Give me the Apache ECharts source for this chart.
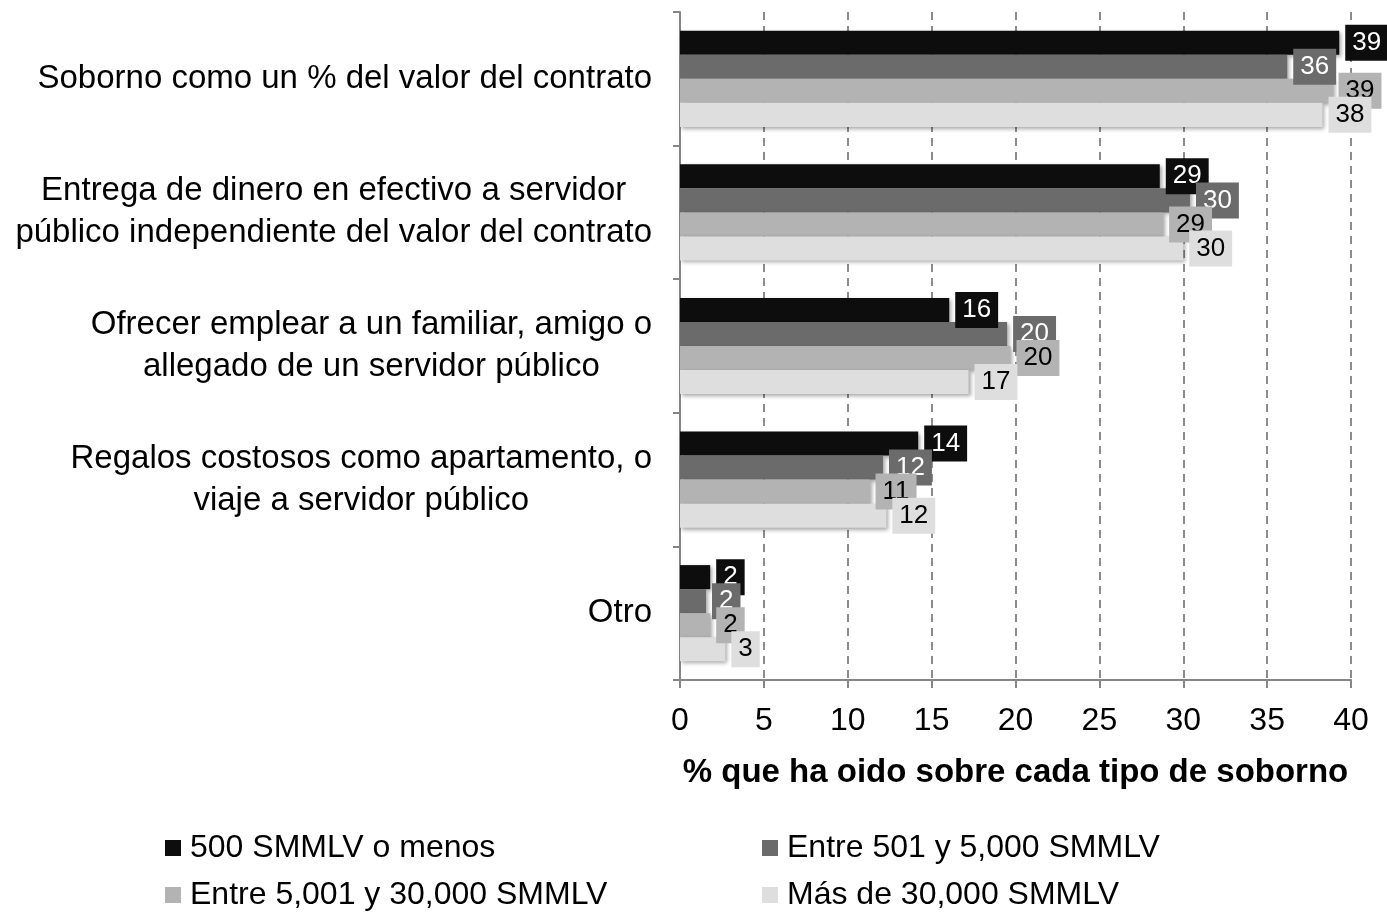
<!DOCTYPE html>
<html>
<head>
<meta charset="utf-8">
<script src="https://cdn.jsdelivr.net/npm/echarts@6/dist/echarts.min.js"></script>
<style>
  html, body { margin: 0; padding: 0; background: #fff; }
  #chart { width: 1387px; height: 914px; }
</style>
</head>
<body>
<div id="chart"></div>
<script>
// categorias (de arriba a abajo)
const categories = [
  'Soborno como un % del valor del contrato',
  'Entrega de dinero en efectivo a servidor\npúblico independiente del valor del contrato',
  'Ofrecer emplear a un familiar, amigo o\nallegado de un servidor público',
  'Regalos costosos como apartamento, o\nviaje a servidor público',
  'Otro'
];
const seriesNames = ['500 SMMLV o menos', 'Entre 501 y 5,000 SMMLV', 'Entre 5,001 y 30,000 SMMLV', 'Más de 30,000 SMMLV'];
const menos500 = [39.3, 28.6, 16.05, 14.2, 1.8];
const entre501 = [36.2, 30.4, 19.5, 12.1, 1.55];
const entre5001 = [38.9, 28.8, 19.7, 11.3, 1.8];
const mas30000 = [38.3, 30.0, 17.2, 12.3, 2.7];
const xTicks = [0, 5, 10, 15, 20, 25, 30, 35, 40];

const colors = ['#0d0d0d', '#6b6b6b', '#b3b3b3', '#dedede'];
const labelText = ['#fff', '#fff', '#000', '#000'];
const font = "'Liberation Sans', Arial, sans-serif";

// posicion de cada leyenda (2 columnas x 2 filas)
const legendPos = [[165, 832], [762, 832], [165, 879], [762, 879]];

const chart = echarts.init(document.getElementById('chart'));

function makeSeries(i, data) {
  return {
    name: seriesNames[i],
    type: 'bar',
    data: data,
    barGap: '0%',
    barCategoryGap: '28%',
    itemStyle: {
      color: colors[i],
      shadowColor: 'rgba(0,0,0,0.35)',
      shadowBlur: 4,
      shadowOffsetX: 2,
      shadowOffsetY: 2
    },
    label: {
      show: true,
      position: 'right',
      distance: 6,
      formatter: p => Math.round(p.value),
      color: labelText[i],
      backgroundColor: colors[i],
      fontFamily: font,
      fontSize: 26,
      lineHeight: 28,
      padding: [4, 7]
    }
  };
}

chart.setOption({
  animation: false,
  color: colors,
  textStyle: { fontFamily: font },
  grid: { left: 680, right: 36, top: 12, bottom: 234 },
  legend: seriesNames.map((n, i) => ({
    data: [n],
    left: legendPos[i][0], top: legendPos[i][1],
    itemWidth: 16, itemHeight: 16,
    icon: 'rect',
    padding: 0,
    textStyle: { fontSize: 32, color: '#000', fontFamily: font, padding: [0, 0, 0, 4] }
  })),
  xAxis: {
    type: 'value',
    min: 0, max: 40, interval: 5,
    name: '% que ha oido sobre cada tipo de soborno',
    nameLocation: 'middle',
    nameGap: 76,
    nameTextStyle: { fontSize: 33, fontWeight: 'bold', color: '#000', fontFamily: font },
    axisLine: { show: true, lineStyle: { color: '#868686', width: 2 } },
    axisTick: { show: true, length: 8, lineStyle: { color: '#868686', width: 2 } },
    axisLabel: {
      fontSize: 32, color: '#000', margin: 25, fontFamily: font,
      formatter: v => xTicks.indexOf(v) >= 0 ? String(v) : ''
    },
    splitLine: { show: true, lineStyle: { color: '#8c8c8c', width: 2, type: [8, 6] } }
  },
  yAxis: {
    type: 'category',
    inverse: true,
    data: categories,
    axisLine: { show: true, lineStyle: { color: '#868686', width: 2 } },
    axisTick: { show: true, length: 7, lineStyle: { color: '#868686', width: 2 } },
    axisLabel: {
      margin: 28,
      color: '#000',
      fontSize: 33,
      fontFamily: font,
      lineHeight: 42,
      formatter: v => v.split('\n').map(s => '{c|' + s + '}').join('\n'),
      rich: {
        c: { align: 'center', fontSize: 33, lineHeight: 42, fontFamily: font, color: '#000' }
      }
    }
  },
  series: [
    makeSeries(0, menos500),
    makeSeries(1, entre501),
    makeSeries(2, entre5001),
    makeSeries(3, mas30000)
  ]
});
</script>
</body>
</html>
